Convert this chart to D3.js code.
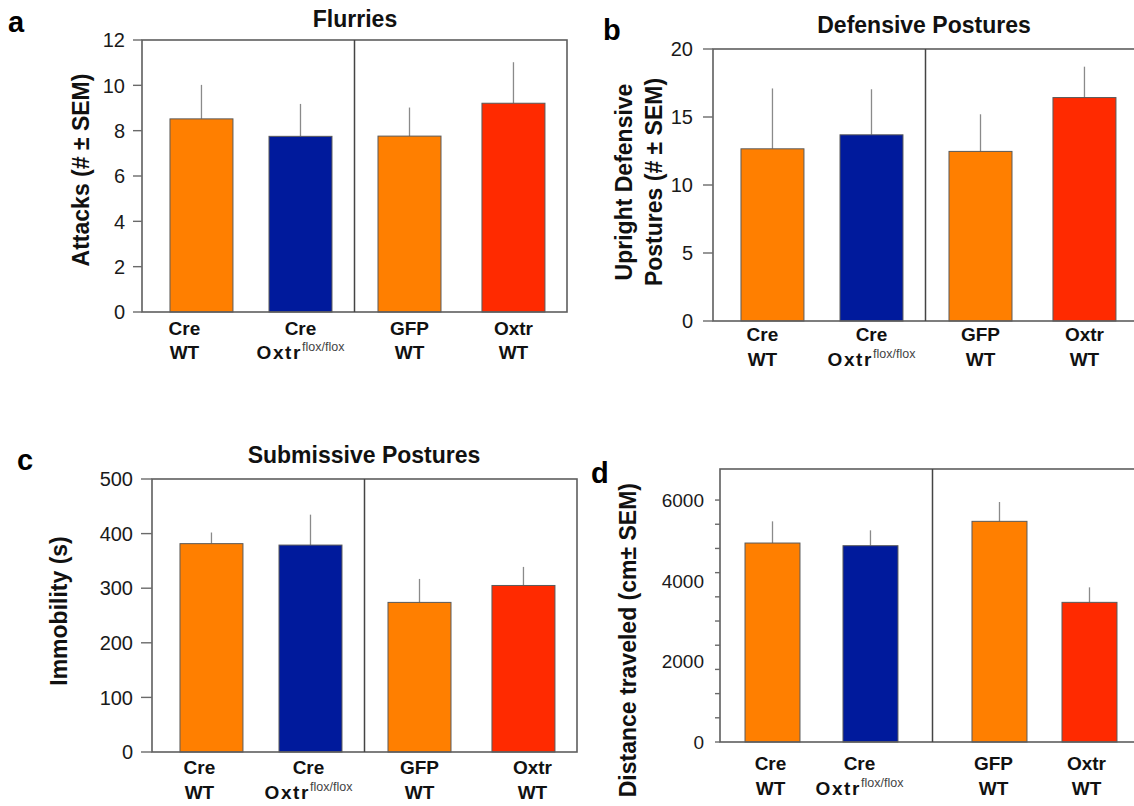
<!DOCTYPE html>
<html>
<head>
<meta charset="utf-8">
<script src="https://cdn.jsdelivr.net/npm/d3@7"></script>
<style>
  body { margin: 0; background: #fff; }
  svg { display: block; font-family: "Liberation Sans", Arial, Helvetica, sans-serif; }
</style>
</head>
<body>
<svg id="chart" width="1134" height="806"></svg>
<script>
// data
const groups = ["Cre", "Control"];
const categories = ["Cre WT", "Cre Oxtr flox/flox", "GFP WT", "Oxtr WT"];
const categoryGroup = ["Cre", "Cre", "Control", "Control"];
const labelTop = ["Cre", "Cre", "GFP", "Oxtr"];
const labelBottom = ["WT", "Oxtr", "WT", "WT"];
const labelSup = ["", "flox/flox", "", ""];
const barColors = ["#ff7f00", "#001a9c", "#ff7f00", "#ff2a00"];

const flurriesMean = [8.52, 7.75, 7.76, 9.21];
const flurriesSem = [1.50, 1.43, 1.26, 1.81];
const flurriesTicks = [0, 2, 4, 6, 8, 10, 12];

const defensiveMean = [12.66, 13.69, 12.47, 16.43];
const defensiveSem = [4.44, 3.35, 2.73, 2.27];
const defensiveTicks = [0, 5, 10, 15, 20];

const submissiveMean = [381.6, 379, 274, 305];
const submissiveSem = [20.4, 55.7, 43, 34];
const submissiveTicks = [0, 100, 200, 300, 400, 500];

const distanceMean = [4934, 4868, 5472, 3463];
const distanceSem = [538, 381, 479, 372];
const distanceTicks = [0, 2000, 4000, 6000];
const distanceMinorTicks = [0, 600, 1200, 1800, 2400, 3000, 3600, 4200, 4800, 5400, 6000];

const svg = d3.select("#chart");

// layout of the four panels
const panels = [
  { letter: "a", letterX: 8, letterY: 32, title: "Flurries", titleX: 355, titleY: 27,
    left: 142, top: 40, bottom: 312, width: 425, domain: [0, 12],
    mean: flurriesMean, sem: flurriesSem, ticks: flurriesTicks, tickLen: 9, labelGap: 17, tickFont: 20,
    ylabel: ["Attacks (# ± SEM)"], ylabelX: [81], ylabelY: 170,
    rowY: [335, 359], shift: [-17, 0, 0, 0],
    band: [{ inner: 0.364, outer: 0.255, align: 0.554 }, { inner: 0.394, outer: 0.219, align: 0.516 }] },
  { letter: "b", letterX: 603, letterY: 40, title: "Defensive Postures", titleX: 924, titleY: 33,
    left: 713, top: 49, bottom: 321, width: 425, domain: [0, 20],
    mean: defensiveMean, sem: defensiveSem, ticks: defensiveTicks, tickLen: 10, labelGap: 20, tickFont: 20,
    ylabel: ["Upright Defensive", "Postures (# ± SEM)"], ylabelX: [624, 654], ylabelY: 182,
    rowY: [341, 366], shift: [-10, 0, 0, 0],
    band: [{ inner: 0.364, outer: 0.255, align: 0.554 }, { inner: 0.394, outer: 0.219, align: 0.516 }] },
  { letter: "c", letterX: 17, letterY: 470, title: "Submissive Postures", titleX: 364, titleY: 463,
    left: 152, top: 479, bottom: 752, width: 425, domain: [0, 500],
    mean: submissiveMean, sem: submissiveSem, ticks: submissiveTicks, tickLen: 11, labelGap: 19, tickFont: 20,
    ylabel: ["Immobility (s)"], ylabelX: [59], ylabelY: 611,
    rowY: [774, 799], shift: [-12, -2, 0, 9],
    band: [{ inner: 0.364, outer: 0.255, align: 0.554 }, { inner: 0.394, outer: 0.219, align: 0.516 }] },
  { letter: "d", letterX: 591, letterY: 483, title: "", titleX: 0, titleY: 0,
    left: 720, top: 469, bottom: 742, width: 425, domain: [0, 6770],
    mean: distanceMean, sem: distanceSem, ticks: distanceTicks, minor: distanceMinorTicks,
    tickLen: 5, labelGap: 16, tickFont: 19,
    ylabel: ["Distance traveled (cm± SEM)"], ylabelX: [628], ylabelTop: 483,
    rowY: [770, 795], shift: [-2, -11, -6, -3],
    band: [{ inner: 0.439, outer: 0.304, align: 0.42 }, { inner: 0.389, outer: 0.375, align: 0.585 }] }
];

panels.forEach(drawPanel);

function drawPanel(p) {
  const g = svg.append("g");

  const y = d3.scaleLinear().domain(p.domain).range([p.bottom, p.top]);
  const x0 = d3.scaleBand().domain(groups).range([p.left, p.left + p.width]);
  const x1 = groups.map((grp, gi) => d3.scaleBand()
    .domain(categories.filter((c, i) => categoryGroup[i] === grp))
    .range([0, x0.bandwidth()])
    .paddingInner(p.band[gi].inner)
    .paddingOuter(p.band[gi].outer)
    .align(p.band[gi].align));

  const barX = i => {
    const gi = groups.indexOf(categoryGroup[i]);
    return x0(categoryGroup[i]) + x1[gi](categories[i]);
  };
  const bw = i => x1[groups.indexOf(categoryGroup[i])].bandwidth();

  // error bars (upper only)
  g.selectAll(".err").data(p.mean).enter().append("line")
    .attr("x1", (d, i) => barX(i) + bw(i) / 2)
    .attr("x2", (d, i) => barX(i) + bw(i) / 2)
    .attr("y1", d => y(d))
    .attr("y2", (d, i) => y(d + p.sem[i]))
    .attr("stroke", "#8a8a8a")
    .attr("stroke-width", 1.3);

  // bars
  g.selectAll(".bar").data(p.mean).enter().append("rect")
    .attr("x", (d, i) => barX(i))
    .attr("y", d => y(d))
    .attr("width", (d, i) => bw(i))
    .attr("height", d => y(0) - y(d))
    .attr("fill", (d, i) => barColors[i])
    .attr("stroke", "#5a5a5a")
    .attr("stroke-width", 1);

  // frame + divider
  g.append("rect")
    .attr("x", p.left).attr("y", p.top)
    .attr("width", p.width).attr("height", p.bottom - p.top)
    .attr("fill", "none").attr("stroke", "#5e5e5e").attr("stroke-width", 1.6);
  g.append("line")
    .attr("x1", x0("Control")).attr("x2", x0("Control"))
    .attr("y1", p.top).attr("y2", p.bottom)
    .attr("stroke", "#444").attr("stroke-width", 1.5);

  // y ticks
  const tickVals = p.minor || p.ticks;
  g.selectAll(".tick").data(tickVals).enter().append("line")
    .attr("x1", p.left - p.tickLen).attr("x2", p.left)
    .attr("y1", d => y(d)).attr("y2", d => y(d))
    .attr("stroke", "#6a6a6a").attr("stroke-width", 1.4);
  g.selectAll(".tlab").data(p.ticks).enter().append("text")
    .attr("x", p.left - p.labelGap)
    .attr("y", d => y(d))
    .attr("dy", "0.36em")
    .attr("text-anchor", "end")
    .attr("font-size", p.tickFont)
    .attr("fill", "#1a1a1a")
    .text(d => d);

  // y axis label
  p.ylabel.forEach((txt, k) => {
    const t = g.append("text")
      .attr("font-size", 23)
      .attr("font-weight", "bold")
      .attr("fill", "#111")
      .attr("dominant-baseline", "central")
      .text(txt);
    if (p.ylabelTop !== undefined) {
      t.attr("text-anchor", "end")
        .attr("transform", `translate(${p.ylabelX[k]},${p.ylabelTop}) rotate(-90)`);
    } else {
      t.attr("text-anchor", "middle")
        .attr("transform", `translate(${p.ylabelX[k]},${p.ylabelY}) rotate(-90)`);
    }
  });

  // x labels
  categories.forEach((c, i) => {
    const cx = barX(i) + bw(i) / 2 + p.shift[i];
    g.append("text")
      .attr("x", cx).attr("y", p.rowY[0])
      .attr("text-anchor", "middle")
      .attr("font-size", 19).attr("font-weight", "bold").attr("fill", "#111")
      .text(labelTop[i]);
    const t2 = g.append("text")
      .attr("x", cx).attr("y", p.rowY[1])
      .attr("text-anchor", "middle")
      .attr("font-size", 19).attr("font-weight", "bold").attr("fill", "#111");
    if (labelSup[i]) {
      t2.append("tspan").attr("letter-spacing", 1.6).text(labelBottom[i]);
      t2.append("tspan")
        .attr("dy", -8)
        .attr("font-size", 12.5).attr("font-weight", "normal").attr("fill", "#444")
        .text(labelSup[i]);
    } else {
      t2.text(labelBottom[i]);
    }
  });

  // title and panel letter
  if (p.title) {
    g.append("text")
      .attr("x", p.titleX).attr("y", p.titleY)
      .attr("text-anchor", "middle")
      .attr("font-size", 23).attr("font-weight", "bold").attr("fill", "#111")
      .text(p.title);
  }
  g.append("text")
    .attr("x", p.letterX).attr("y", p.letterY)
    .attr("font-size", 29).attr("font-weight", "bold").attr("fill", "#000")
    .text(p.letter);
}
</script>
</body>
</html>
